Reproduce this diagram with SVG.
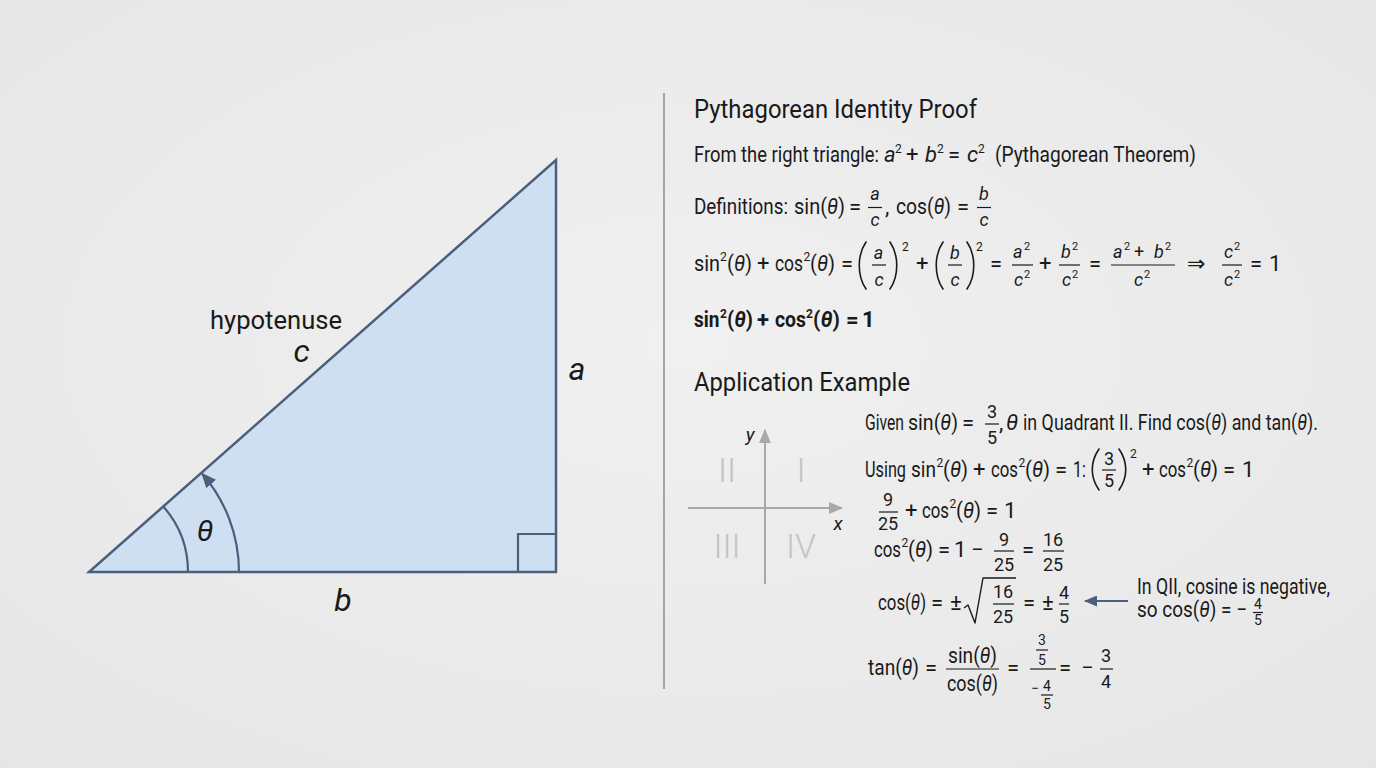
<svg xmlns="http://www.w3.org/2000/svg" width="1376" height="768" viewBox="0 0 1376 768">
<defs>
<radialGradient id="bg" cx="50%" cy="45%" r="75%">
<stop offset="0" stop-color="#f0f0f0"/>
<stop offset="1" stop-color="#e6e6e6"/>
</radialGradient>
<marker id="ah" markerWidth="15" markerHeight="13" refX="14" refY="6.5" orient="auto" markerUnits="userSpaceOnUse"><path d="M0,0 L15,6.5 L0,13 Z" fill="#4a5f7e"/></marker>
<marker id="an" markerWidth="13" markerHeight="11" refX="12" refY="5.5" orient="auto" markerUnits="userSpaceOnUse"><path d="M0,0 L13,5.5 L0,11 Z" fill="#4a5f7e"/></marker>
<marker id="ag" markerWidth="14" markerHeight="12" refX="13" refY="6" orient="auto" markerUnits="userSpaceOnUse"><path d="M0,0 L14,6 L0,12 Z" fill="#a8a8a8"/></marker>
<style>
.t{font-family:Roboto,"Liberation Sans","DejaVu Sans",sans-serif;font-size:22px;fill:#1a1a1a}
.it{font-style:italic}
.fr{font-size:18px}
.sp{font-size:12px}
.ss{font-size:11px}
.sm{font-size:14px}
.hd{font-size:26px}
.lb{font-size:32px}
.bd{font-weight:700}
.m{text-anchor:middle}
.bar{stroke:#1a1a1a;stroke-width:1.2}
.pr{fill:none;stroke:#1a1a1a;stroke-width:1.6;stroke-linecap:round}
.edge{fill:none;stroke:#4a5f7e;stroke-width:2.2}
.q{font-family:Roboto,"Liberation Sans",sans-serif;font-weight:300;font-size:34px;fill:#c4c4c4;text-anchor:middle}
.ax{stroke:#a8a8a8;stroke-width:2;fill:none}
</style>
</defs>
<rect width="1376" height="768" fill="url(#bg)"/>

<g id="triangle">
<path d="M89,572 L556,572 L556,160 Z" fill="#cddff0" stroke="#4a5f7e" stroke-width="2.5" stroke-linejoin="miter"/>
<path d="M518,572 L518,534 L556,534" class="edge" stroke-width="1.8"/>
<path d="M188,572 A99,99 0 0 0 163.3,506.5" class="edge"/>
</g>

<g id="triangle-labels">
<text class="t" x="210" y="329" style="font-size:26px" textLength="132" lengthAdjust="spacingAndGlyphs">hypotenuse</text>
<text class="t it m lb" x="301.5" y="362">c</text>
<text class="t it m lb" x="577" y="380">a</text>
<text class="t it m lb" x="343" y="611">b</text>
<text class="t it m" x="205" y="541" style="font-size:30px">θ</text>
</g>

<g id="separator"><line x1="664" y1="93" x2="664" y2="689" stroke="#8c8c8c" stroke-width="1.5"/></g>

<g id="proof">
<text class="t hd" x="694" y="118" textLength="283" lengthAdjust="spacingAndGlyphs">Pythagorean Identity Proof</text>

<text class="t" x="694" y="162" textLength="185" lengthAdjust="spacingAndGlyphs">From the right triangle:</text>
<text class="t it" x="884" y="162">a</text><text class="t sp" x="895" y="153">2</text>
<text class="t" x="906" y="162">+</text>
<text class="t it" x="925" y="162">b</text><text class="t sp" x="937" y="153">2</text>
<text class="t" x="948" y="162">=</text>
<text class="t it" x="967" y="162">c</text><text class="t sp" x="978" y="153">2</text>
<text class="t" x="995" y="162" textLength="201" lengthAdjust="spacingAndGlyphs">(Pythagorean Theorem)</text>

<text class="t" x="694" y="214" textLength="94" lengthAdjust="spacingAndGlyphs">Definitions:</text>
<text class="t" x="794" y="214" textLength="51" lengthAdjust="spacingAndGlyphs">sin(<tspan class="it">θ</tspan>)</text>
<text class="t" x="849" y="214">=</text>
<text class="t it fr m" x="875" y="200">a</text><line class="bar" x1="868" y1="207.5" x2="882" y2="207.5"/><text class="t it fr m" x="875" y="226">c</text>
<text class="t" x="885" y="214">,</text>
<text class="t" x="896" y="214" textLength="55" lengthAdjust="spacingAndGlyphs">cos(<tspan class="it">θ</tspan>)</text>
<text class="t" x="957" y="214">=</text>
<text class="t it fr m" x="984" y="200">b</text><line class="bar" x1="977" y1="207.5" x2="991" y2="207.5"/><text class="t it fr m" x="984" y="226">c</text>

<text class="t" x="694" y="271" textLength="26" lengthAdjust="spacingAndGlyphs">sin</text><text class="t sp" x="720" y="261">2</text>
<text class="t" x="727" y="271" textLength="25" lengthAdjust="spacingAndGlyphs">(<tspan class="it">θ</tspan>)</text>
<text class="t" x="757" y="271">+</text>
<text class="t" x="775" y="271" textLength="28" lengthAdjust="spacingAndGlyphs">cos</text><text class="t sp" x="803.5" y="261">2</text>
<text class="t" x="810" y="271" textLength="25" lengthAdjust="spacingAndGlyphs">(<tspan class="it">θ</tspan>)</text>
<text class="t" x="841" y="271">=</text>
<path class="pr" d="M866,242 C857,255 857,276 866,289"/>
<text class="t it fr m" x="878.5" y="259">a</text><line class="bar" x1="872" y1="265" x2="886" y2="265"/><text class="t it fr m" x="879" y="286">c</text>
<path class="pr" d="M890,242 C899,255 899,276 890,289"/>
<text class="t sp" x="902" y="251">2</text>
<text class="t" x="916" y="271">+</text>
<path class="pr" d="M943,242 C934,255 934,276 943,289"/>
<text class="t it fr m" x="955" y="259">b</text><line class="bar" x1="948" y1="265" x2="962" y2="265"/><text class="t it fr m" x="955" y="286">c</text>
<path class="pr" d="M967,242 C976,255 976,276 967,289"/>
<text class="t sp" x="976" y="251">2</text>
<text class="t" x="990" y="271">=</text>
<text class="t it fr" x="1013" y="258">a</text><text class="t ss" x="1024" y="250">2</text>
<line class="bar" x1="1012" y1="265" x2="1033" y2="265"/>
<text class="t it fr" x="1014" y="286">c</text><text class="t ss" x="1024" y="278">2</text>
<text class="t" x="1039" y="271">+</text>
<text class="t it fr" x="1061" y="258">b</text><text class="t ss" x="1072" y="250">2</text>
<line class="bar" x1="1059" y1="265" x2="1080" y2="265"/>
<text class="t it fr" x="1062" y="286">c</text><text class="t ss" x="1072" y="278">2</text>
<text class="t" x="1089" y="271">=</text>
<text class="t it fr" x="1113" y="258">a</text><text class="t ss" x="1124" y="250">2</text>
<text class="t fr" x="1134" y="258">+</text>
<text class="t it fr" x="1154" y="258">b</text><text class="t ss" x="1165" y="250">2</text>
<line class="bar" x1="1111" y1="265" x2="1175" y2="265"/>
<text class="t it fr" x="1134" y="286">c</text><text class="t ss" x="1144" y="278">2</text>
<text class="t" x="1187" y="271">⇒</text>
<text class="t it fr" x="1224" y="258">c</text><text class="t ss" x="1234" y="250">2</text>
<line class="bar" x1="1222" y1="265" x2="1242" y2="265"/>
<text class="t it fr" x="1224" y="286">c</text><text class="t ss" x="1234" y="278">2</text>
<text class="t" x="1250" y="271">=</text>
<text class="t" x="1269" y="271">1</text>

<g>
<text class="t bd" x="694" y="327" textLength="25.5" lengthAdjust="spacingAndGlyphs">sin</text><text class="t bd sp" x="720" y="318">2</text>
<text class="t bd" x="727" y="327" textLength="26" lengthAdjust="spacingAndGlyphs">(<tspan class="it">θ</tspan>)</text>
<text class="t bd" x="757" y="327">+</text>
<text class="t bd" x="775" y="327" textLength="31" lengthAdjust="spacingAndGlyphs">cos</text><text class="t bd sp" x="806" y="318">2</text>
<text class="t bd" x="813" y="327" textLength="27" lengthAdjust="spacingAndGlyphs">(<tspan class="it">θ</tspan>)</text>
<text class="t bd" x="846" y="327">=</text>
<text class="t bd" x="862" y="327">1</text>
</g>
</g>

<g id="application">
<text class="t hd" x="694" y="391" textLength="216" lengthAdjust="spacingAndGlyphs">Application Example</text>

<text class="t" x="865" y="430" textLength="39" lengthAdjust="spacingAndGlyphs">Given</text>
<text class="t" x="908" y="430" textLength="50" lengthAdjust="spacingAndGlyphs">sin(<tspan class="it">θ</tspan>)</text>
<text class="t" x="962" y="430">=</text>
<text class="t fr m" x="992" y="418">3</text><line class="bar" x1="985" y1="424" x2="999" y2="424"/><text class="t fr m" x="992" y="444">5</text>
<text class="t" x="999" y="430">,</text>
<text class="t it" x="1006" y="430">θ</text>
<text class="t" x="1023" y="430" textLength="295" lengthAdjust="spacingAndGlyphs">in Quadrant II. Find cos(<tspan class="it">θ</tspan>) and tan(<tspan class="it">θ</tspan>).</text>

<text class="t" x="865" y="477" textLength="41" lengthAdjust="spacingAndGlyphs">Using</text>
<text class="t" x="911" y="477" textLength="25" lengthAdjust="spacingAndGlyphs">sin</text><text class="t sp" x="936.5" y="467">2</text>
<text class="t" x="943" y="477" textLength="25" lengthAdjust="spacingAndGlyphs">(<tspan class="it">θ</tspan>)</text>
<text class="t" x="973" y="477">+</text>
<text class="t" x="991" y="477" textLength="27" lengthAdjust="spacingAndGlyphs">cos</text><text class="t sp" x="1018.5" y="467">2</text>
<text class="t" x="1025" y="477" textLength="25" lengthAdjust="spacingAndGlyphs">(<tspan class="it">θ</tspan>)</text>
<text class="t" x="1055" y="477">=</text>
<text class="t" x="1073" y="477" textLength="13" lengthAdjust="spacingAndGlyphs">1:</text>
<path class="pr" d="M1099,449 C1090,462 1090,477 1099,490"/>
<text class="t fr m" x="1109" y="465">3</text><line class="bar" x1="1102" y1="470" x2="1116" y2="470"/><text class="t fr m" x="1109" y="487">5</text>
<path class="pr" d="M1119,449 C1128,462 1128,477 1119,490"/>
<text class="t sp" x="1130" y="458">2</text>
<text class="t" x="1142" y="477">+</text>
<text class="t" x="1159" y="477" textLength="27" lengthAdjust="spacingAndGlyphs">cos</text><text class="t sp" x="1186.5" y="467">2</text>
<text class="t" x="1193" y="477" textLength="25" lengthAdjust="spacingAndGlyphs">(<tspan class="it">θ</tspan>)</text>
<text class="t" x="1223" y="477">=</text>
<text class="t" x="1242" y="477">1</text>

<text class="t fr m" x="888" y="506">9</text><line class="bar" x1="879" y1="512" x2="898" y2="512"/><text class="t fr m" x="888" y="530">25</text>
<text class="t" x="905" y="518">+</text>
<text class="t" x="922" y="518" textLength="27" lengthAdjust="spacingAndGlyphs">cos</text><text class="t sp" x="949.5" y="508">2</text>
<text class="t" x="956" y="518" textLength="25" lengthAdjust="spacingAndGlyphs">(<tspan class="it">θ</tspan>)</text>
<text class="t" x="986" y="518">=</text>
<text class="t" x="1004" y="518">1</text>

<text class="t" x="874" y="557" textLength="27" lengthAdjust="spacingAndGlyphs">cos</text><text class="t sp" x="901.5" y="547">2</text>
<text class="t" x="908" y="557" textLength="25" lengthAdjust="spacingAndGlyphs">(<tspan class="it">θ</tspan>)</text>
<text class="t" x="938" y="557">=</text>
<text class="t" x="954" y="557">1</text>
<text class="t" x="971" y="557">−</text>
<text class="t fr m" x="1004" y="546">9</text><line class="bar" x1="994" y1="551" x2="1014" y2="551"/><text class="t fr m" x="1004" y="571">25</text>
<text class="t" x="1022" y="557">=</text>
<text class="t fr m" x="1053" y="546">16</text><line class="bar" x1="1043" y1="551" x2="1064" y2="551"/><text class="t fr m" x="1053" y="571">25</text>

<text class="t" x="878" y="610" textLength="48" lengthAdjust="spacingAndGlyphs">cos(<tspan class="it">θ</tspan>)</text>
<text class="t" x="931" y="610">=</text>
<text class="t" x="950" y="610">±</text>
<path d="M964,608 L968,605 L975,623 L983,578 L1016,578" fill="none" stroke="#1a1a1a" stroke-width="1.4" stroke-linejoin="round"/>
<text class="t fr m" x="1003" y="598">16</text><line class="bar" x1="993" y1="604" x2="1014" y2="604"/><text class="t fr m" x="1003" y="623">25</text>
<text class="t" x="1023" y="610">=</text>
<text class="t" x="1042" y="610">±</text>
<text class="t fr m" x="1064" y="599">4</text><line class="bar" x1="1059" y1="604" x2="1069" y2="604"/><text class="t fr m" x="1064" y="623">5</text>

<text class="t" x="1137" y="594" textLength="193" lengthAdjust="spacingAndGlyphs">In QII, cosine is negative,</text>
<text class="t" x="1137" y="617" textLength="110" lengthAdjust="spacingAndGlyphs">so cos(<tspan class="it">θ</tspan>) = −</text>
<text class="t sm m" x="1258" y="609">4</text><line class="bar" x1="1253" y1="612.5" x2="1263" y2="612.5"/><text class="t sm m" x="1258" y="625">5</text>

<text class="t" x="868" y="675" textLength="51" lengthAdjust="spacingAndGlyphs">tan(<tspan class="it">θ</tspan>)</text>
<text class="t" x="925" y="675">=</text>
<text class="t" x="948" y="663" textLength="49" lengthAdjust="spacingAndGlyphs">sin(<tspan class="it">θ</tspan>)</text>
<line class="bar" x1="946" y1="669" x2="999" y2="669"/>
<text class="t" x="947" y="691" textLength="51" lengthAdjust="spacingAndGlyphs">cos(<tspan class="it">θ</tspan>)</text>
<text class="t" x="1007" y="675">=</text>
<text class="t sm m" x="1042" y="645">3</text><line class="bar" x1="1036" y1="650" x2="1048" y2="650"/><text class="t sm m" x="1042" y="665">5</text>
<line class="bar" x1="1030" y1="669" x2="1056" y2="669"/>
<text class="t sm" x="1031" y="693">−</text>
<text class="t sm m" x="1047" y="691">4</text><line class="bar" x1="1041" y1="695" x2="1053" y2="695"/><text class="t sm m" x="1047" y="709">5</text>
<text class="t" x="1059" y="675">=</text>
<text class="t" x="1081" y="675">−</text>
<text class="t fr m" x="1106" y="662">3</text><line class="bar" x1="1100" y1="669" x2="1113" y2="669"/><text class="t fr m" x="1106" y="688">4</text>
</g>

<g id="quadrant-axes">
<line class="ax" x1="765" y1="584" x2="765" y2="430" marker-end="url(#ag)"/>
<line class="ax" x1="688" y1="508" x2="842" y2="508" marker-end="url(#ag)"/>
<text class="t it m" x="750" y="441" style="font-size:19px">y</text>
<text class="t it m" x="838" y="530" style="font-size:19px">x</text>
<text class="q" x="727" y="482">II</text>
<text class="q" x="801" y="482">I</text>
<text class="q" x="727" y="558">III</text>
<text class="q" x="801" y="558">IV</text>
</g>

<g id="connectors">
<path d="M239,572 A150,150 0 0 0 202,473.5" class="edge" marker-end="url(#ah)"/>
<line x1="1128" y1="601" x2="1085" y2="601" stroke="#4a5f7e" stroke-width="2" marker-end="url(#an)"/>
</g>
</svg>
